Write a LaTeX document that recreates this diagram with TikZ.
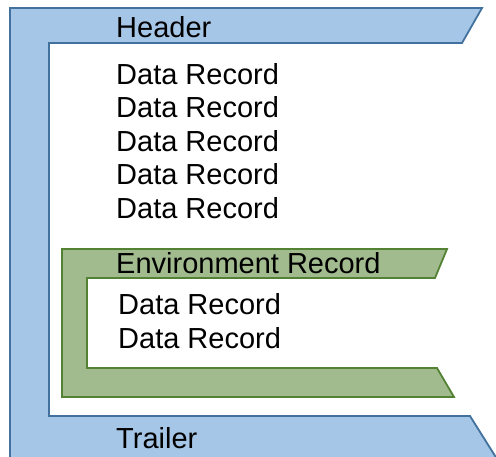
\documentclass[tikz,border=0pt]{standalone}
\usepackage{fontspec}
\setmainfont{Liberation Sans}
\definecolor{bluefill}{RGB}{166,198,231}
\definecolor{blueline}{RGB}{65,113,156}
\definecolor{greenfill}{RGB}{161,187,142}
\definecolor{greenline}{RGB}{84,130,53}
\tikzset{
  bluebracket/.style={fill=bluefill, draw=blueline, line width=1.8pt, line join=miter},
  greenbracket/.style={fill=greenfill, draw=greenline, line width=1.8pt, line join=miter},
  rec/.style={anchor=base west, inner sep=0pt, font=\fontsize{29}{34}\selectfont, text=black}
}
\begin{document}
\begin{tikzpicture}[x=1pt,y=-1pt]
\useasboundingbox (0,0) rectangle (496,457);
\begin{scope}
\clip (0,0) rectangle (496,457);
\fill[white] (0,0) rectangle (496,457);
\draw[bluebracket] (10,8) -- (482,8) -- (462,43) -- (49,43) -- (49,416) -- (470,416) -- (497,459) -- (497,470) -- (10,470) -- cycle;
\draw[greenbracket] (62,249) -- (447,249) -- (435,278) -- (87,278) -- (87,368) -- (437,368) -- (454,397) -- (62,397) -- cycle;
\end{scope}
\node[rec] (header) at (116,37.7) {Header};
\node[rec] (d1) at (116,84.3) {Data Record};
\node[rec] (d2) at (116,118) {Data Record};
\node[rec] (d3) at (116,151.5) {Data Record};
\node[rec] (d4) at (116,185) {Data Record};
\node[rec] (d5) at (116,218.5) {Data Record};
\node[rec] (env) at (116,274) {Environment Record};
\node[rec] (e1) at (118,315) {Data Record};
\node[rec] (e2) at (118,349) {Data Record};
\node[rec] (trailer) at (116,449) {Trailer};
\end{tikzpicture}
\end{document}
